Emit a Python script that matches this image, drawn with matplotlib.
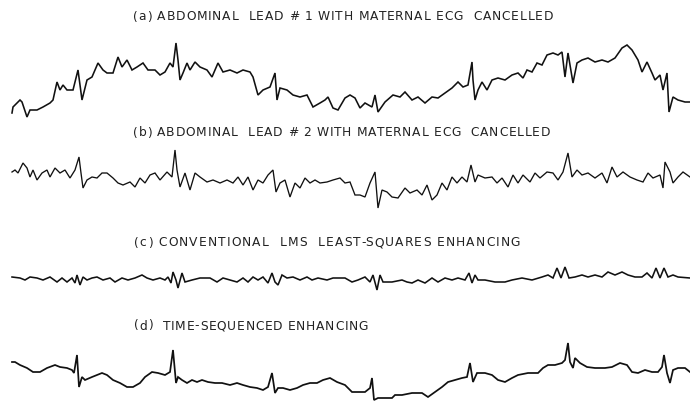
import matplotlib
matplotlib.use("Agg")
import matplotlib.pyplot as plt
from matplotlib.font_manager import FontProperties

# Panel titles
titles = [
    "(a) ABDOMINAL  LEAD # 1 WITH MATERNAL ECG  CANCELLED",
    "(b) ABDOMINAL  LEAD # 2 WITH MATERNAL ECG  CANCELLED",
    "(c) CONVENTIONAL  LMS  LEAST-SQUARES ENHANCING",
    "(d)  TIME-SEQUENCED ENHANCING",
]
title_y = [17, 133, 243, 326]
title_left = [133, 133, 134, 134]
title_right = [553, 550, 520, 368]

# Trace (a): sample position, deflection (page units, downwards positive)
a_x = [12, 13, 20, 22, 27, 30, 37, 43, 50, 53, 57, 60, 63, 67, 73, 78, 82, 87, 92, 98,
       103, 107, 113, 118, 122, 127, 132, 137, 143, 148, 155, 160, 165, 170, 173, 176, 178, 180, 183, 187,
       190, 195, 200, 207, 212, 218, 223, 230, 237, 243, 250, 253, 258, 263, 270, 275, 277, 280, 287, 293,
       300, 307, 313, 320, 325, 328, 333, 338, 345, 350, 355, 360, 365, 372, 375, 378, 385, 393, 400, 405,
       412, 418, 425, 432, 438, 445, 452, 458, 463, 468, 472, 473, 475, 478, 482, 487, 492, 498, 505, 512,
       518, 523, 527, 532, 537, 542, 547, 553, 558, 562, 565, 568, 573, 577, 582, 588, 595, 602, 608, 615,
       622, 627, 632, 638, 642, 647, 652, 655, 660, 663, 667, 669, 673, 678, 685, 690]
a_y = [113, 107, 100, 102, 117, 110, 110, 107, 103, 100, 82, 90, 85, 90, 90, 70, 100, 80, 77, 63,
       70, 73, 73, 57, 67, 60, 70, 67, 63, 70, 70, 75, 72, 63, 67, 43, 60, 80, 73, 63,
       70, 62, 67, 70, 77, 63, 72, 70, 73, 70, 72, 77, 95, 90, 87, 73, 100, 88, 90, 95,
       97, 95, 107, 103, 100, 97, 108, 110, 98, 95, 98, 108, 103, 107, 95, 112, 102, 95, 97, 92,
       100, 97, 103, 97, 98, 93, 88, 82, 87, 85, 62, 80, 100, 90, 82, 90, 80, 78, 80, 75,
       73, 78, 70, 72, 63, 65, 55, 53, 55, 52, 77, 53, 83, 63, 60, 58, 62, 60, 62, 58,
       48, 45, 50, 60, 72, 62, 73, 80, 75, 90, 73, 112, 97, 100, 102, 102]

# Trace (b)
b_x = [12, 15, 18, 23, 27, 30, 33, 37, 42, 47, 50, 55, 60, 65, 70, 75, 79, 81, 83, 87,
       92, 97, 102, 107, 113, 118, 123, 130, 135, 140, 145, 150, 155, 160, 167, 172, 175, 177, 180, 185,
       190, 195, 200, 207, 213, 220, 227, 233, 238, 243, 248, 253, 258, 263, 268, 273, 276, 280, 285, 290,
       295, 300, 305, 310, 315, 320, 327, 333, 340, 345, 350, 355, 360, 365, 370, 375, 378, 382, 387, 392,
       398, 405, 410, 417, 422, 427, 432, 437, 442, 447, 452, 457, 462, 467, 471, 475, 478, 485, 492, 497,
       502, 508, 513, 518, 523, 530, 535, 540, 547, 553, 558, 563, 568, 572, 577, 582, 588, 595, 602, 607,
       612, 617, 623, 630, 637, 643, 648, 653, 660, 663, 665, 670, 673, 678, 683, 690]
b_y = [172, 170, 173, 163, 168, 177, 170, 180, 173, 170, 177, 168, 173, 170, 178, 170, 157, 173, 188, 180,
       177, 178, 173, 173, 178, 183, 185, 182, 187, 178, 183, 175, 173, 180, 172, 177, 150, 170, 187, 173,
       190, 173, 177, 182, 180, 183, 180, 183, 177, 185, 177, 190, 180, 183, 175, 170, 192, 183, 180, 197,
       183, 188, 178, 183, 180, 183, 182, 180, 178, 183, 182, 195, 195, 197, 183, 172, 208, 190, 192, 197,
       198, 188, 193, 190, 195, 185, 200, 195, 183, 190, 177, 183, 177, 182, 165, 182, 175, 178, 177, 183,
       178, 187, 175, 183, 175, 182, 173, 178, 172, 173, 180, 172, 153, 177, 170, 175, 173, 178, 173, 183,
       167, 177, 172, 177, 180, 182, 173, 178, 175, 188, 162, 172, 183, 177, 172, 177]

# Trace (c)
c_x = [12, 20, 25, 30, 37, 43, 50, 57, 62, 67, 72, 75, 77, 80, 83, 87, 92, 97, 103, 110,
       115, 122, 128, 135, 142, 147, 153, 160, 165, 168, 171, 173, 176, 178, 182, 185, 192, 200, 210, 217,
       223, 230, 237, 243, 248, 253, 258, 263, 268, 272, 275, 278, 282, 287, 293, 300, 307, 312, 318, 327,
       333, 345, 352, 358, 365, 370, 373, 377, 380, 383, 392, 402, 407, 412, 418, 425, 432, 438, 445, 452,
       458, 465, 469, 472, 475, 478, 485, 495, 505, 512, 522, 532, 542, 548, 553, 557, 561, 565, 569, 575,
       582, 588, 595, 602, 608, 615, 622, 628, 635, 642, 647, 652, 656, 660, 664, 668, 673, 678, 690]
c_y = [277, 278, 280, 277, 278, 280, 277, 282, 278, 282, 278, 283, 275, 285, 277, 280, 278, 277, 280, 278,
       282, 278, 280, 278, 275, 278, 280, 278, 280, 277, 283, 272, 280, 288, 273, 282, 280, 278, 278, 282,
       278, 280, 282, 278, 282, 277, 280, 277, 283, 273, 282, 285, 275, 278, 277, 280, 277, 280, 278, 280,
       278, 278, 282, 280, 277, 282, 275, 290, 275, 282, 282, 280, 282, 283, 280, 283, 278, 282, 278, 280,
       278, 280, 273, 283, 275, 280, 280, 282, 282, 280, 278, 280, 277, 275, 278, 268, 278, 267, 278, 277,
       275, 277, 275, 277, 272, 275, 272, 275, 277, 277, 273, 278, 268, 278, 268, 277, 275, 277, 278]

# Trace (d)
d_x = [12, 15, 20, 27, 33, 40, 47, 55, 60, 67, 72, 74, 77, 79, 82, 85, 92, 97, 102, 107,
       113, 120, 127, 133, 140, 145, 152, 158, 165, 170, 173, 176, 178, 182, 187, 192, 197, 202, 208, 215,
       222, 230, 237, 243, 250, 257, 263, 268, 272, 275, 278, 283, 290, 297, 303, 310, 317, 323, 330, 337,
       345, 352, 358, 365, 370, 372, 374, 378, 385, 392, 395, 402, 412, 422, 428, 435, 442, 448, 455, 462,
       467, 470, 473, 477, 485, 492, 498, 505, 512, 518, 528, 538, 543, 548, 555, 562, 565, 568, 570, 573,
       575, 580, 587, 595, 605, 612, 620, 627, 632, 638, 645, 652, 658, 662, 664, 667, 670, 673, 678, 685, 690]
d_y = [362, 362, 365, 368, 372, 372, 368, 365, 367, 368, 370, 373, 355, 387, 377, 380, 377, 375, 373, 375,
       380, 383, 387, 387, 383, 377, 372, 373, 375, 372, 350, 383, 377, 380, 383, 380, 382, 380, 382, 383,
       383, 385, 383, 385, 387, 388, 390, 387, 373, 393, 388, 388, 390, 388, 385, 383, 383, 380, 378, 382,
       385, 392, 392, 392, 388, 378, 400, 398, 398, 398, 395, 395, 393, 393, 397, 392, 387, 382, 380, 378,
       377, 363, 382, 373, 373, 375, 380, 382, 378, 375, 373, 373, 368, 365, 365, 363, 360, 343, 362, 368,
       358, 363, 367, 368, 368, 367, 363, 365, 372, 373, 370, 372, 372, 367, 355, 373, 383, 370, 368, 368, 372]

traces = [(a_x, a_y), (b_x, b_y), (c_x, c_y), (d_x, d_y)]
widths = [1.15, 0.95, 1.15, 1.25]

fig = plt.figure(figsize=(6.9, 4.04), dpi=100)
ax = fig.add_axes([0, 0, 1, 1])
ax.set_xlim(0, 690)
ax.set_ylim(404, 0)
ax.axis("off")

for (xs, ys), lw in zip(traces, widths):
    ax.plot(xs, ys, color="#111111", lw=lw, solid_joinstyle="miter")

# Titles drawn with letter tracking so that they span the same width as the scan
renderer = fig.canvas.get_renderer()
prop = FontProperties(family="DejaVu Sans", size=8.8)
bar_w = renderer.get_text_width_height_descent("|", prop, ismath=False)[0]


def adv(s):
    return renderer.get_text_width_height_descent(s + "|", prop, ismath=False)[0] - bar_w


for t, ty, xl, xr in zip(titles, title_y, title_left, title_right):
    last_w = adv(t[-1])
    natural = adv(t[:-1])
    track = (xr - xl - last_w - natural) / max(len(t) - 1, 1)
    for i, ch in enumerate(t):
        if ch == " ":
            continue
        xpix = xl + adv(t[:i]) + i * track
        ax.text(xpix, ty, ch, fontproperties=prop, color="#222222",
                va="center", ha="left")

fig.savefig("out.png", dpi=100, facecolor="white")
